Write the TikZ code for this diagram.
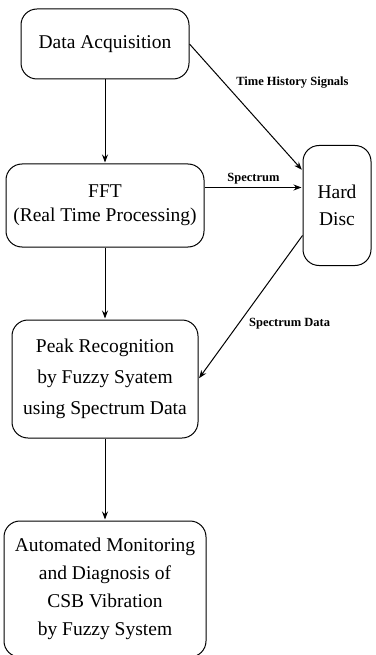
\documentclass[tikz,border=0pt]{standalone}
\usepackage{fontspec}
\setmainfont{Liberation Serif}
\usetikzlibrary{arrows.meta,positioning}

\begin{document}
\begin{tikzpicture}[>={Stealth[length=8pt,width=6pt]},->,shorten >=1pt,auto,line width=1pt,
                    x=1pt,y=-1pt,
                    block/.style={draw,rounded corners=16pt,align=center,
                      inner sep=2pt,font=\fontsize{19.5}{24}\selectfont},
                    tag/.style={font=\bfseries\fontsize{12.5}{14}\selectfont}]

  \useasboundingbox (0,0) rectangle (375,655);

  \node[block,minimum width=168pt,minimum height=70pt]  (acq) at (105,44) {Data Acquisition};
  \node[block,minimum width=198pt,minimum height=83pt]  (fft)  [below=84pt of acq] {FFT\\(Real Time Processing)};
  \node[block,minimum width=68pt,minimum height=120pt]  (disc) [right=98pt of fft] {Hard\\[3pt]Disc};
  \node[block,minimum width=186pt,minimum height=118pt] (peak) [below=72pt of fft]
       {Peak Recognition\\[7pt]by Fuzzy Syatem\\[7pt]using Spectrum Data};
  \node[block,minimum width=202pt,minimum height=136pt] (mon)  [below=82pt of peak]
       {Automated Monitoring\\[4pt]and Diagnosis of\\[4pt]CSB Vibration\\[4pt]by Fuzzy System};

  \path (acq) edge (fft)
        (acq.east) edge node[tag,pos=.38] {Time History Signals} ([yshift=35pt]disc.west)
        ([yshift=18pt]fft.east) edge node[tag] {Spectrum} ([yshift=18pt]disc.west)
        (fft) edge (peak)
        ([yshift=-30pt]disc.west) edge node[tag,pos=.55] {Spectrum Data} (peak.east)
        (peak) edge (mon);
\end{tikzpicture}
\end{document}
